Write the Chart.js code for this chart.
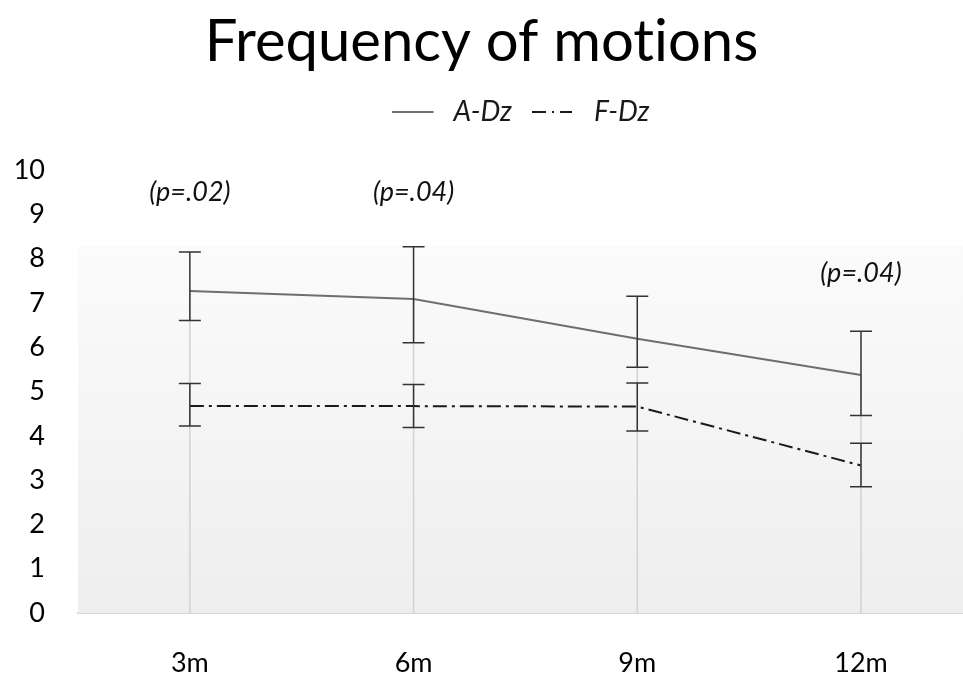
<!DOCTYPE html>
<html>
<head>
<meta charset="utf-8">
<script src="https://cdn.jsdelivr.net/npm/chart.js@4/dist/chart.umd.min.js"></script>
<style>
  html, body { margin: 0; padding: 0; background: #fff; }
  #wrap { width: 963px; height: 673px; }
</style>
</head>
<body>
<div id="wrap"><canvas id="motionsChart" width="963" height="673"></canvas></div>
<script>
const categories = ['3m', '6m', '9m', '12m'];
const aDz = [7.27, 7.09, 6.19, 5.37];
const aDzHigh = [8.15, 8.27, 7.15, 6.36];
const aDzLow = [6.60, 6.10, 5.55, 4.46];
const fDz = [4.67, 4.67, 4.66, 3.33];
const fDzHigh = [5.18, 5.16, 5.19, 3.83];
const fDzLow = [4.22, 4.19, 4.11, 2.85];
const pLabels = ['(p=.02)', '(p=.04)', '', '(p=.04)'];
const pLevels = [9.5, 9.5, null, 7.66];

const FONT = 'Lato, "Open Sans", sans-serif';
const DASH_F = [14, 5, 3, 5];

function points(values) {
    return values.map((v, i) => ({ x: i, y: v }));
}

// small canvas used as the legend symbol, line sits in the left part
function legendLine(color, dash, len) {
    const c = document.createElement('canvas');
    c.width = 48;
    c.height = 4;
    const g = c.getContext('2d');
    g.strokeStyle = color;
    g.lineWidth = 2;
    g.setLineDash(dash);
    g.beginPath();
    g.moveTo(0, 2);
    g.lineTo(len, 2);
    g.stroke();
    return c;
}

// plot background + drop lines under the series
const backdrop = {
    id: 'backdrop',
    beforeDraw(chart) {
        chart.ctx.textRendering = 'optimizeSpeed';
    },
    beforeDatasetsDraw(chart) {
        const { ctx, chartArea, scales: { x, y } } = chart;
        const top = y.getPixelForValue(8.3);
        const grad = ctx.createLinearGradient(0, top, 0, chartArea.bottom);
        grad.addColorStop(0, '#fbfbfb');
        grad.addColorStop(1, '#eeeeee');
        ctx.save();
        ctx.fillStyle = grad;
        ctx.fillRect(chartArea.left, top, chartArea.right - chartArea.left, chartArea.bottom - top);
        ctx.strokeStyle = '#d2d2d2';
        ctx.lineWidth = 1.5;
        categories.forEach((c, i) => {
            const px = x.getPixelForValue(i);
            ctx.beginPath();
            ctx.moveTo(px, y.getPixelForValue(Math.max(aDz[i], fDz[i])));
            ctx.lineTo(px, chartArea.bottom);
            ctx.stroke();
        });
        ctx.restore();
    }
};

// error bars and p-value notes
const errorBars = {
    id: 'errorBars',
    afterDatasetsDraw(chart) {
        const { ctx, scales: { x, y } } = chart;
        ctx.save();
        ctx.strokeStyle = '#333333';
        ctx.lineWidth = 1.5;
        const draw = (lows, highs) => {
            lows.forEach((lo, i) => {
                const px = x.getPixelForValue(i);
                const yLo = y.getPixelForValue(lo);
                const yHi = y.getPixelForValue(highs[i]);
                ctx.beginPath();
                ctx.moveTo(px, yLo);
                ctx.lineTo(px, yHi);
                ctx.moveTo(px - 11, yLo);
                ctx.lineTo(px + 11, yLo);
                ctx.moveTo(px - 11, yHi);
                ctx.lineTo(px + 11, yHi);
                ctx.stroke();
            });
        };
        draw(aDzLow, aDzHigh);
        draw(fDzLow, fDzHigh);

        ctx.fillStyle = '#111';
        ctx.font = 'italic 27px ' + FONT;
        ctx.textAlign = 'center';
        ctx.textBaseline = 'middle';
        pLabels.forEach((t, i) => {
            if (!t) return;
            ctx.fillText(t, x.getPixelForValue(i), y.getPixelForValue(pLevels[i]));
        });
        ctx.restore();
    }
};

new Chart(document.getElementById('motionsChart'), {
    type: 'line',
    data: {
        datasets: [{
            label: 'A-Dz',
            data: points(aDz),
            borderColor: '#6e6e6e',
            backgroundColor: '#6e6e6e',
            borderWidth: 2,
            pointRadius: 0,
            pointStyle: legendLine('#6e6e6e', [], 42),
            tension: 0,
            fill: false,
        }, {
            label: 'F-Dz',
            data: points(fDz),
            borderColor: '#1a1a1a',
            backgroundColor: '#1a1a1a',
            borderWidth: 2,
            borderDash: DASH_F,
            pointRadius: 0,
            pointStyle: legendLine('#1a1a1a', [14, 6, 2, 6], 40),
            tension: 0,
            fill: false,
        }]
    },
    options: {
        responsive: false,
        animation: false,
        devicePixelRatio: 1,
        layout: { padding: 0 },
        plugins: {
            tooltip: { enabled: false },
            title: {
                display: true,
                text: 'Frequency of motions',
                color: '#000',
                font: { family: FONT, size: 58, weight: 'normal', lineHeight: 1 },
                padding: { top: 13, bottom: 7 }
            },
            legend: {
                display: true,
                fullSize: false,
                labels: {
                    usePointStyle: true,
                    pointStyleWidth: 48,
                    padding: 20,
                    color: '#1a1a1a',
                    font: { family: FONT, size: 28, style: 'italic' }
                }
            },
            subtitle: {
                display: true,
                text: ' ',
                weight: 500,
                font: { size: 10, lineHeight: 1 },
                padding: { top: 0, bottom: 24 }
            }
        },
        scales: {
            x: {
                type: 'linear',
                min: -0.5,
                max: 3.456,
                afterBuildTicks: (s) => { s.ticks = categories.map((c, i) => ({ value: i })); },
                afterFit: (s) => { s.height = 60; },
                grid: { display: false, drawTicks: false },
                border: { display: true, color: '#d6d6d6', width: 2 },
                ticks: {
                    callback: (v) => categories[v],
                    color: '#000',
                    padding: 34,
                    maxRotation: 0,
                    font: { family: FONT, size: 27 }
                }
            },
            y: {
                min: 0,
                max: 10,
                afterFit: (s) => { s.width = 78; },
                grid: { display: false, drawTicks: false },
                border: { display: false },
                ticks: {
                    stepSize: 1,
                    color: '#000',
                    padding: 33,
                    font: { family: FONT, size: 27 }
                }
            }
        }
    },
    plugins: [backdrop, errorBars]
});
</script>
</body>
</html>
